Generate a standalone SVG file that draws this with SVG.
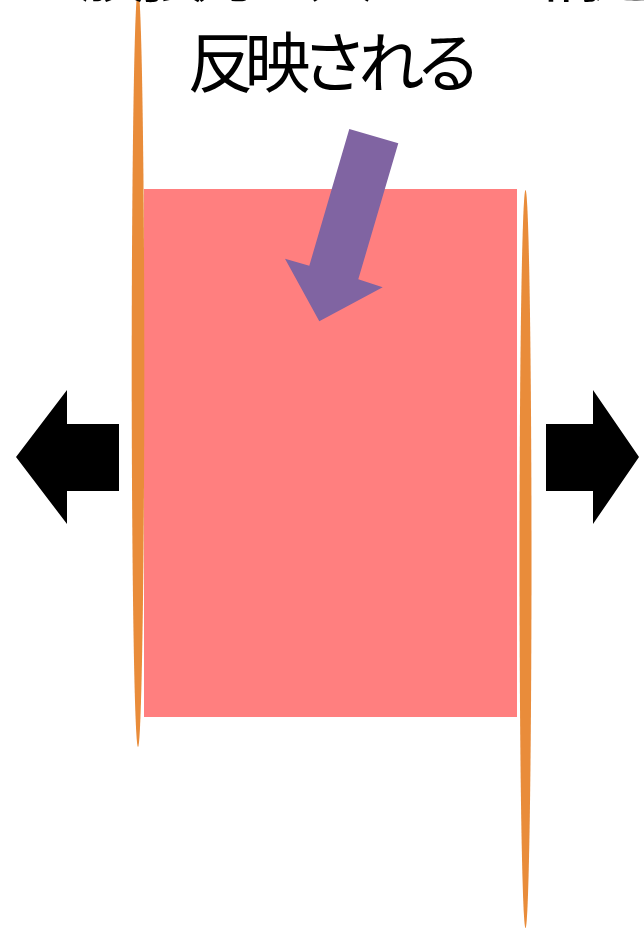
<svg xmlns="http://www.w3.org/2000/svg" width="644" height="929" viewBox="0 0 644 929">
<style>
.lbl{font-family:"Noto Sans CJK JP","Noto Sans",sans-serif;font-size:66px;fill:#000;letter-spacing:-9px}
.mem{fill:#E98C3A}
.push{fill:#000}
</style>
<rect width="644" height="929" fill="#fff"/>
<g id="cell"><rect x="144" y="189" width="373" height="528" fill="#FF7F7F"/></g>
<g id="membrane-left"><ellipse class="mem" cx="138" cy="368" rx="6.3" ry="379"/></g>
<g id="membrane-right"><ellipse class="mem" cx="525.5" cy="559" rx="6" ry="369"/></g>
<g id="label">
<text class="lbl" x="80" y="-4">膜張力の大きさも構造に</text>
<text class="lbl" x="330" y="87" text-anchor="middle">反映される</text>
</g>
<g id="connectors">
<polygon id="arrow-left" class="push" points="16,457 67,390 67,424 119,424 119,491 67,491 67,524"/>
<polygon id="arrow-right" class="push" points="639,457 593,390 593,424 546,424 546,491 593,491 593,524"/>
<polygon id="arrow-purple" fill="#8064A2" points="349.3,129 398.3,143.3 358.3,279.3 382.7,287.3 319.3,321.3 285,258.7 309.3,265.7"/>
</g>
</svg>
